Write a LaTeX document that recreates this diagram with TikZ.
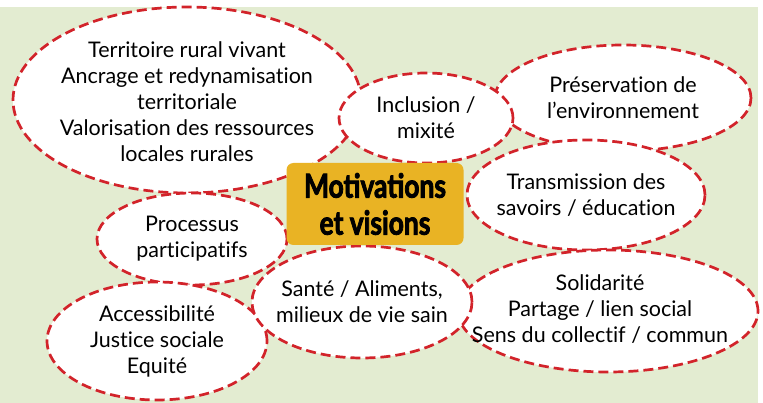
\documentclass[tikz,border=0pt]{standalone}
\usepackage{fontspec}
\setmainfont{Lato}[Ligatures=NoCommon]
\newfontfamily\titlefont[FakeStretch=0.80, BoldFeatures={FakeBold=2.5}]{Lato}
\usetikzlibrary{shapes.geometric}

\definecolor{bggreen}{HTML}{E3ECD1}
\definecolor{dashred}{HTML}{D2232A}
\definecolor{boxgold}{HTML}{E9B324}

\tikzset{
  idea/.style={ellipse, draw=dashred, fill=white, line width=2.7pt,
    dash pattern=on 10pt off 5pt, inner sep=0pt},
  ideatext/.style={align=center, inner sep=0pt,
    font=\fontsize{21.5}{26}\selectfont},
  motbox/.style={rounded corners=7pt, fill=boxgold, minimum width=177pt,
    minimum height=82pt, align=center,
    font=\titlefont\bfseries\fontsize{33}{37}\selectfont}
}

\begin{document}
\begin{tikzpicture}[x=1pt,y=-1pt]
    \useasboundingbox (0,0) rectangle (763,403);
    \fill[bggreen] (0,7) rectangle (758,403);

    % ellipses
    \node[idea, minimum width=348pt, minimum height=186pt] (terr) at (187,100) {};
    \node[idea, minimum width=256pt, minimum height=106pt] (pres) at (623,98) {};
    \node[idea, minimum width=174pt, minimum height=90pt] (incl) at (426,118) {};
    \node[idea, minimum width=238pt, minimum height=110pt] (trans) at (586,195) {};
    \node[idea, minimum width=190pt, minimum height=92pt] (proc) at (192,239) {};
    \node[idea, minimum width=220pt, minimum height=118pt] (acc) at (157,341) {};
    \node[idea, minimum width=300pt, minimum height=122pt] (sol) at (608,311) {};
    \node[idea, minimum width=220pt, minimum height=112pt] (sante) at (362,302) {};

    % texts
    \node[ideatext] (terr-t) at (187,102) {Territoire rural vivant\\Ancrage et redynamisation\\territoriale\\Valorisation des ressources\\locales rurales};
    \node[ideatext] (pres-t) at (pres) {Préservation de\\l’environnement};
    \node[ideatext] (incl-t) at (incl) {Inclusion /\\mixité};
    \node[ideatext] (trans-t) at (trans) {Transmission des\\savoirs / éducation};
    \node[ideatext] (proc-t) at (proc) {Processus\\participatifs};
    \node[ideatext] (acc-t) at (acc) {Accessibilité\\Justice sociale\\Equité};
    \node[ideatext] (sol-t) at (600,309) {Solidarité\\Partage / lien social\\Sens du collectif / commun};
    \node[ideatext] (sante-t) at (sante) {Santé / Aliments,\\milieux de vie sain};

    \node[motbox] (mot) at (375,204) {Motivations\\et visions};
\end{tikzpicture}
\end{document}
